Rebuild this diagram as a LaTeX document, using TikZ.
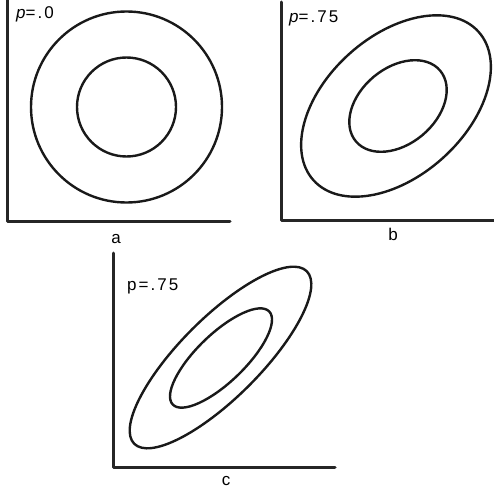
\documentclass[tikz,border=0pt]{standalone}
\usepackage{fontspec}
\setmainfont[LetterSpace=12]{Liberation Sans}
\begin{document}
\begin{tikzpicture}[x=1pt,y=1pt,line join=round,line cap=round,
	axis/.style={line width=3pt,black!85},
	contour/.style={line width=2.4pt,black!90},
	lbl/.style={inner sep=0pt,font=\fontsize{17}{19}\selectfont}]
	\useasboundingbox (0,0) rectangle (494,488);
	% panel a
	\draw[axis] (7,488)--(7,267)--(230,267);
	\draw[contour] (126.5,381) circle(95.5) (126.5,381) circle(49.5);
	\node[lbl,anchor=base west] (pa) at (16,469) {{\itshape p}=.0};
	\node[lbl,anchor=base] (capa) at (116,245) {a};
	% panel b
	\draw[axis] (281,486)--(281,268)--(494,268);
	\draw[contour,rotate around={42:(396,382)}] (396,382) ellipse (111 and 70);
	\draw[contour,rotate around={40:(398,382)}] (398,382) ellipse (55 and 38);
	\node[lbl,anchor=base west] (pb) at (289,465.5) {{\itshape p}=.75};
	\node[lbl,anchor=base] (capb) at (393,248) {b};
	% panel c
	\draw[axis] (113.3,235)--(113.3,21)--(335,21);
	\draw[contour,rotate around={45:(220.5,130.5)}] (220.5,130.5) ellipse (122 and 40);
	\draw[contour,rotate around={44:(221,130)}] (221,130) ellipse (67 and 24);
	\node[lbl,anchor=base west] (pc) at (127,197.5) {p=.75};
	\node[lbl,anchor=base] (capc) at (226,3) {c};
\end{tikzpicture}
\end{document}
